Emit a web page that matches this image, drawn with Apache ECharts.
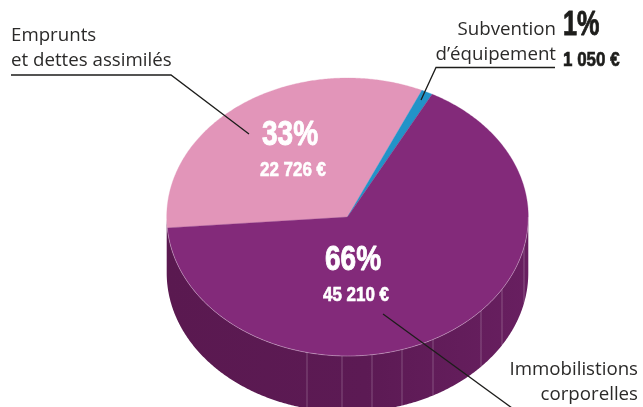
<!DOCTYPE html>
<html>
<head>
<meta charset="utf-8">
<style>html,body{margin:0;padding:0;background:#fff}#c{width:643px;height:407px}</style>
<script src="https://cdn.jsdelivr.net/npm/echarts@6/dist/echarts.min.js"></script>
</head>
<body>
<div id="c"></div>
<script>
const categories = ['Emprunts et dettes assimilés', "Subvention d'équipement", 'Immobilistions corporelles'];
const shares = [33, 1, 66];
const amounts = ['22 726 €', '1 050 €', '45 210 €'];
const colors = ['#e295b9', '#2293c8', '#832a7a'];

const cx = 347.5, cy = 217, rx = 180.8, ry = 139, depth = 56, startDeg = 175.5;
const total = shares.reduce((a, b) => a + b, 0);
const rad = d => d * Math.PI / 180;
const pt = (deg, dy) => [cx + rx * Math.cos(rad(deg)), cy + ry * Math.sin(rad(deg)) + (dy || 0)];
function arc(a, b, dy) {
  const n = Math.max(2, Math.ceil(Math.abs(b - a) * 2)), out = [];
  for (let i = 0; i <= n; i++) out.push(pt(a + (b - a) * i / n, dy));
  return out;
}
const seamX = [307, 342, 372, 402, 433, 481, 502, 524];

function renderTop(params, api) {
  let a = startDeg;
  for (let i = 0; i < params.dataIndex; i++) a += shares[i] / total * 360;
  const b = a + api.value(0) / total * 360;
  return {
    type: 'polygon',
    shape: { points: [[cx, cy]].concat(arc(a, b)) },
    style: { fill: colors[params.dataIndex], stroke: colors[params.dataIndex], lineWidth: 0.3 }
  };
}
function renderWall() {
  const top = arc(0, 180), bottom = arc(180, 0, depth);
  const children = [{
    type: 'polygon',
    shape: { points: top.concat(bottom) },
    style: {
      fill: new echarts.graphic.LinearGradient(0, 0, 1, 0, [
        { offset: 0, color: '#5a1950' }, { offset: 0.55, color: '#5c1a54' }, { offset: 1, color: '#681f60' }
      ])
    }
  }];
  seamX.forEach(x => {
    const deg = Math.acos((x - cx) / rx) * 180 / Math.PI;
    children.push({
      type: 'line',
      shape: { x1: x, y1: pt(deg)[1], x2: x, y2: pt(deg, depth)[1] },
      style: { stroke: 'rgba(255,255,255,0.3)', lineWidth: 0.8 }
    });
  });
  return { type: 'group', children };
}
function renderEdge() {
  return {
    type: 'polyline',
    shape: { points: arc(0, startDeg) },
    style: { fill: null, stroke: 'rgba(255,255,255,0.45)', lineWidth: 0.7 }
  };
}

const ink = '#1d1d1b', sans = '"Open Sans","Noto Sans",sans-serif', heavy = '"Liberation Sans",sans-serif';
const label = (text, x, baseline, align) => ({
  type: 'text', x, y: baseline - 6.5, z: 20,
  style: { text, x: 0, y: 0, fill: '#2b2a29', font: '18.7px ' + sans, align: align || 'left', verticalAlign: 'middle' }
});
const big = (text, x, baseline, size, fill, sx, lw) => ({
  type: 'text', x, y: baseline - size * 0.36, z: 20, scaleX: sx,
  style: { text, x: 0, y: 0, fill, stroke: fill, lineWidth: lw, font: 'bold ' + size + 'px ' + heavy, align: 'left', verticalAlign: 'middle' }
});
const leader = points => ({
  type: 'polyline', z: 15, shape: { points },
  style: { fill: null, stroke: ink, lineWidth: 1.3 }
});

const chart = echarts.init(document.getElementById('c'), null, { renderer: 'canvas' });
chart.setOption({
  animation: false,
  backgroundColor: '#fff',
  series: [
    { type: 'custom', coordinateSystem: 'none', z: 1, silent: true, data: [[shares[2]]], renderItem: renderWall },
    { type: 'custom', coordinateSystem: 'none', z: 2, silent: true,
      data: shares.map((v, i) => ({ name: categories[i], value: [v] })), renderItem: renderTop },
    { type: 'custom', coordinateSystem: 'none', z: 3, silent: true, data: [[shares[2]]], renderItem: renderEdge }
  ],
  graphic: [
    leader([[11, 75], [171, 75], [249, 134]]),
    leader([[555, 67.5], [436, 67.5], [421, 100]]),
    leader([[383, 314], [512, 408]]),
    label('Emprunts', 11, 42),
    label('et dettes assimilés', 11, 67),
    label('Subvention', 556, 36, 'right'),
    label('d’équipement', 556, 61, 'right'),
    label('Immobilistions', 638, 376, 'right'),
    label('corporelles', 638, 401, 'right'),
    big(shares[0] + '%', 262, 148, 35, '#fff', 0.8, 0.9),
    big(amounts[0], 260, 178, 19.5, '#fff', 0.87, 0.6),
    big(shares[2] + '%', 325, 273, 35, '#fff', 0.8, 0.9),
    big(amounts[2], 323, 303, 19.5, '#fff', 0.87, 0.6),
    big(shares[1] + '%', 563, 38, 35, ink, 0.72, 0.9),
    big(amounts[1], 563, 68, 19.5, ink, 0.87, 0.6)
  ]
});
</script>
</body>
</html>
